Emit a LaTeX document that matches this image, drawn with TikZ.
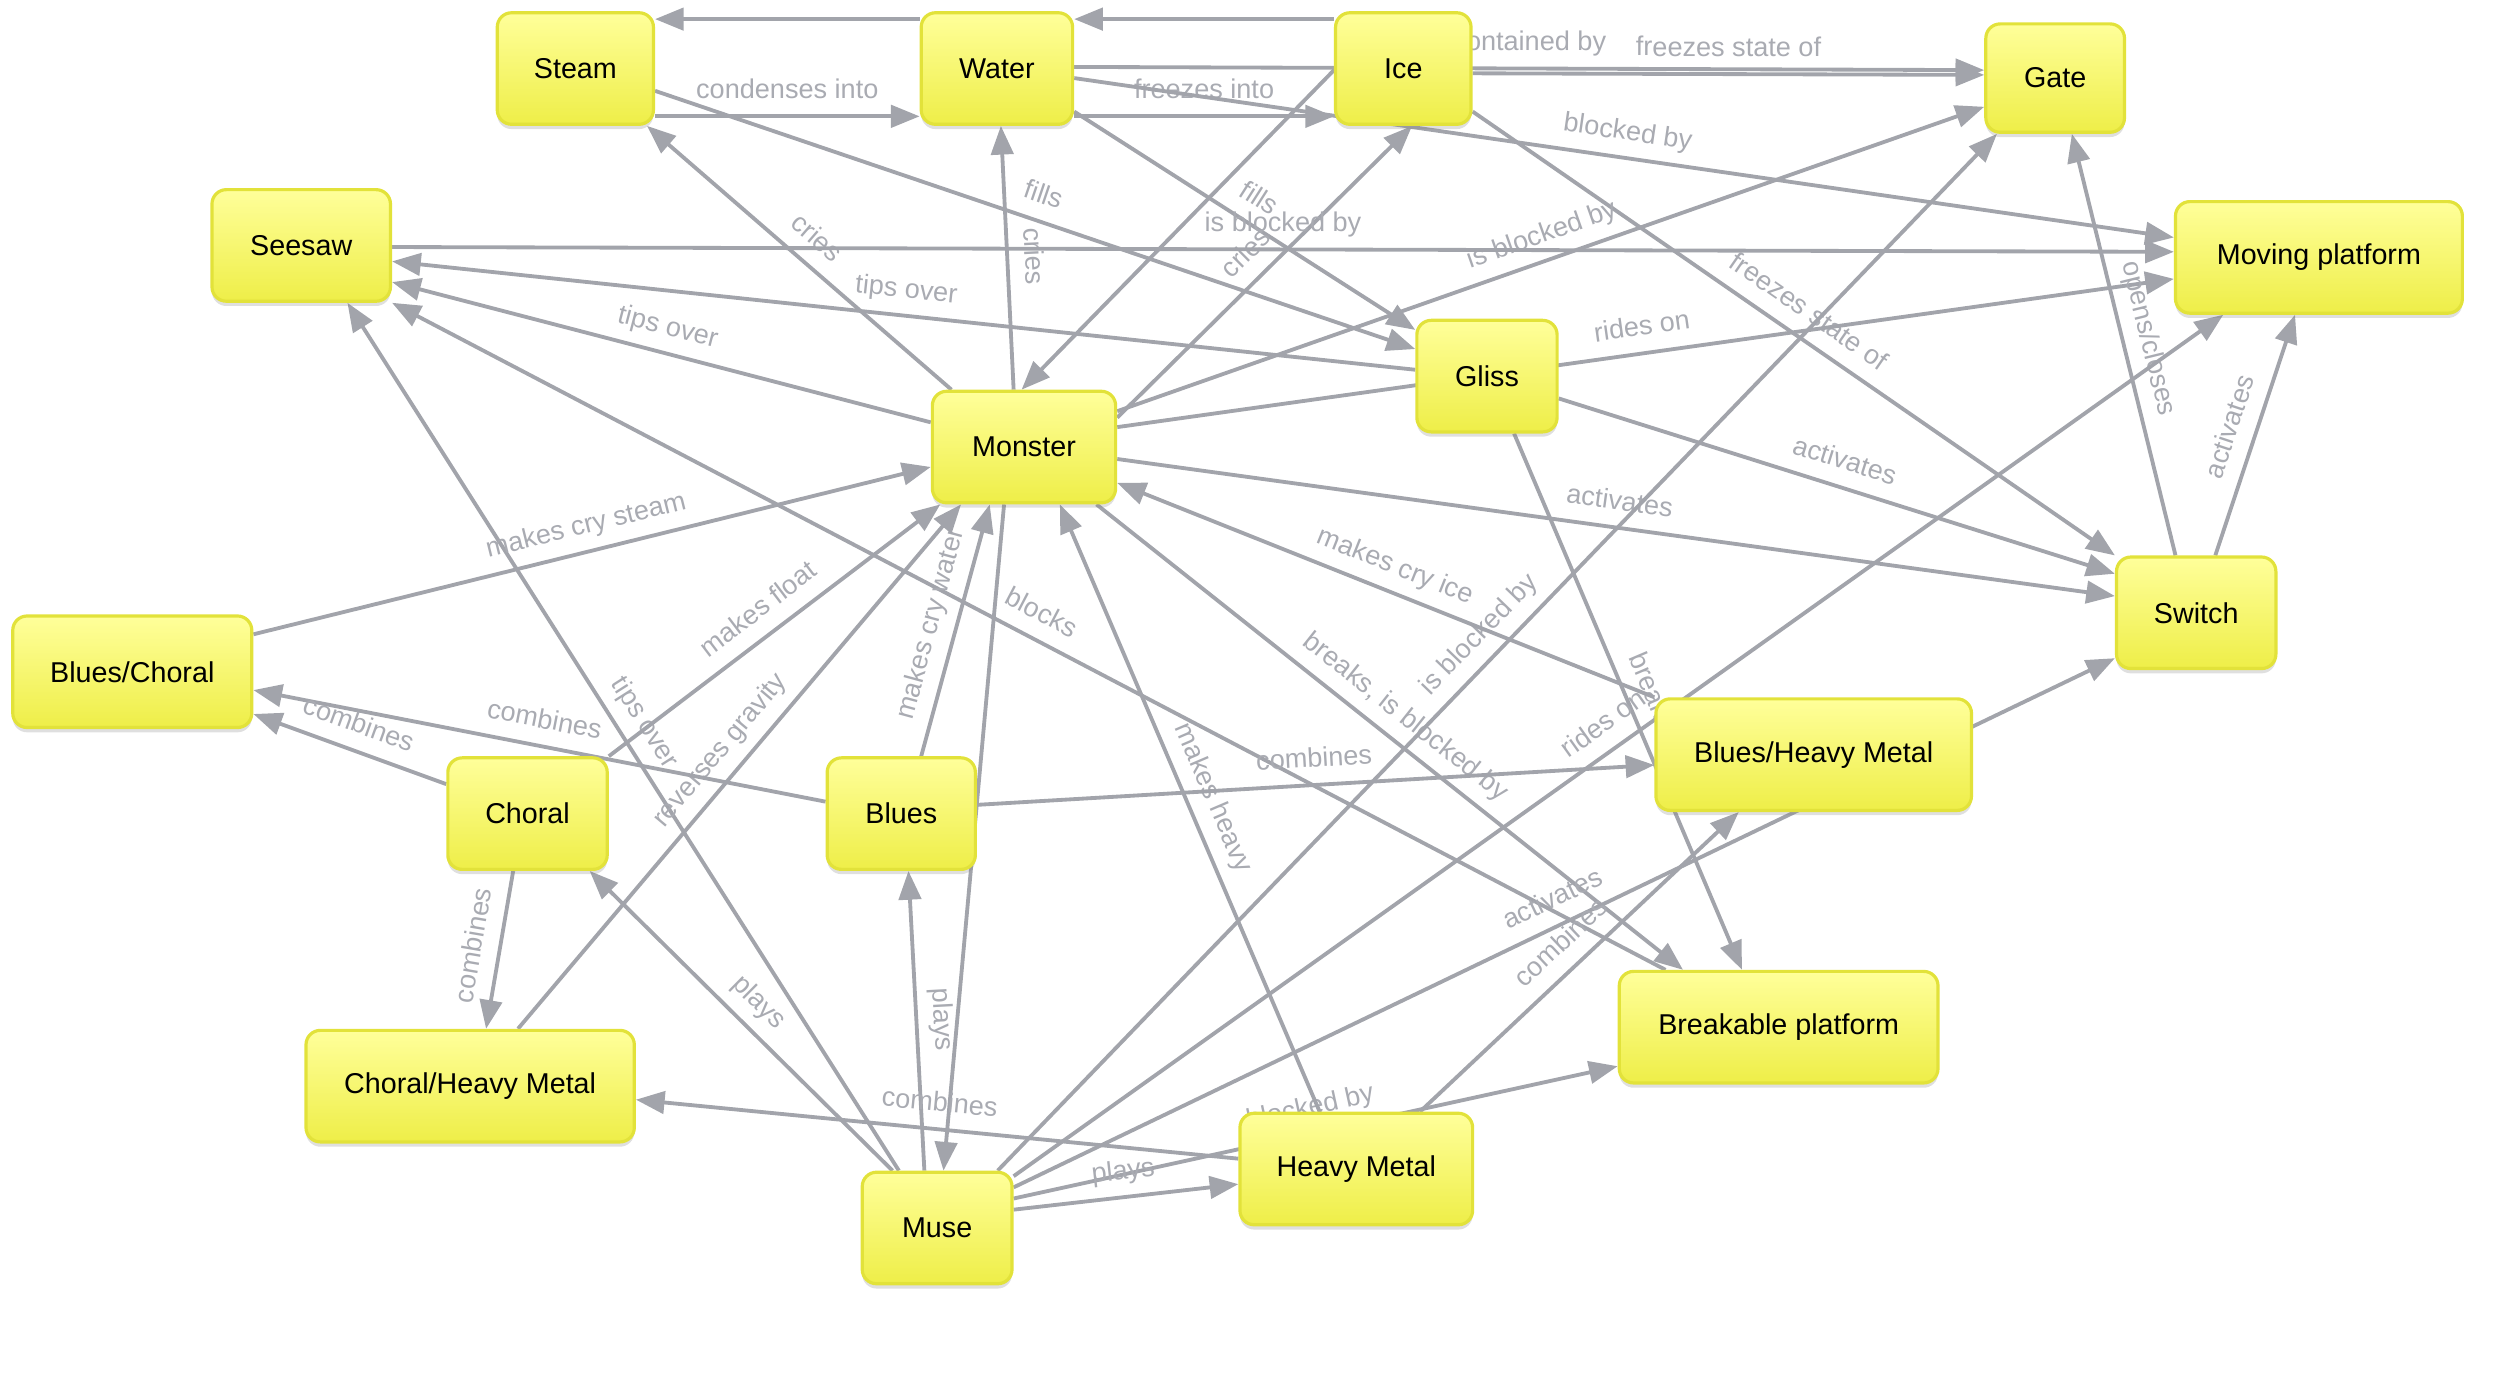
\documentclass[tikz,border=0pt]{standalone}
\usepackage{fontspec}
\setmainfont{Liberation Sans}
\usetikzlibrary{arrows.meta, backgrounds, shadows}

\definecolor{boxtop}{HTML}{FFFF9A}
\definecolor{boxbot}{HTML}{EEEE48}
\definecolor{boxline}{HTML}{E2E23A}
\definecolor{edgegray}{HTML}{A2A4AB}
\definecolor{lblgray}{HTML}{A9ABB2}

\begin{document}
\begin{tikzpicture}[
    x=1pt, y=-1pt,
    >={Triangle[length=18pt, width=14pt]},
    blk/.style={rectangle, rounded corners=9pt, draw=boxline, line width=2pt,
        top color=boxtop, bottom color=boxbot, minimum height=70pt,
        font=\fontsize{18}{18}\selectfont, text=black,
        drop shadow={shadow xshift=0pt, shadow yshift=-3pt, opacity=.25}},
    edge/.style={->, draw=edgegray, line width=2.4pt},
    lbl/.style={sloped, above=5pt, inner sep=1pt, text=lblgray,
        font=\fontsize{17}{17}\selectfont, text height=12pt, text depth=4pt}
]
\useasboundingbox (0,0) rectangle (1568,861);

\node[blk, minimum width=98pt]  (steam)     at (361,43)    {Steam};
\node[blk, minimum width=95pt]  (water)     at (625.5,43)  {Water};
\node[blk, minimum width=85pt]  (ice)       at (880.5,43)  {Ice};
\node[blk, minimum width=87pt, minimum height=68pt] (gate) at (1289.5,49) {Gate};
\node[blk, minimum width=112pt] (seesaw)    at (189,154)   {Seesaw};
\node[blk, minimum width=180pt] (moving)    at (1455,161.5) {Moving platform};
\node[blk, minimum width=88pt]  (gliss)     at (933,236)   {Gliss};
\node[blk, minimum width=115pt] (monster)   at (642.5,280.5) {Monster};
\node[blk, minimum width=100pt] (switch)    at (1378,384.5) {Switch};
\node[blk, minimum width=150pt] (bluesch)   at (83,421.5)  {Blues/Choral};
\node[blk, minimum width=100pt] (choral)    at (331,510.5) {Choral};
\node[blk, minimum width=93pt]  (blues)     at (565.5,510.5) {Blues};
\node[blk, minimum width=198pt] (blueshm)   at (1138,473.5) {Blues/Heavy Metal};
\node[blk, minimum width=200pt] (breakable) at (1116,644.5) {Breakable platform};
\node[blk, minimum width=206pt] (choralhm)  at (295,681.5) {Choral/Heavy Metal};
\node[blk, minimum width=146pt] (heavy)     at (851,733.5) {Heavy Metal};
\node[blk, minimum width=94pt]  (muse)      at (588,770.5) {Muse};

\begin{scope}[on background layer]
% states of water
\draw[edge] (water.west |- 0,12) -- (steam.east |- 0,12);
\draw[edge] (ice.west |- 0,12) -- (water.east |- 0,12);
\draw[edge] (steam.east |- 0,73) -- node[midway, lbl] {condenses into} (water.west |- 0,73);
\draw[edge] (water.east |- 0,73) -- node[midway, lbl] {freezes into} (ice.west |- 0,73);
\draw[edge] (water.east |- 0,42) -- node[midway, lbl] {contained by} (gate.west |- 0,44);
\draw[edge] (ice.east |- 0,46) -- node[midway, lbl] {freezes state of} (gate.west |- 0,47);
\draw[edge] (water.east |- 0,49) -- node[midway, lbl] {blocked by} (moving.west |- 0,149);
\draw[edge] (ice.east |- 0,70) -- node[midway, lbl] {freezes state of} (switch.north west);
\draw[edge] (steam.east |- 0,57) -- node[midway, lbl] {fills} (gliss.west |- 0,219);
\draw[edge] (water.east |- 0,70) -- node[midway, lbl] {fills} (gliss.west |- 0,207);

% monster
\draw[edge] (monster.north -| 597,0) -- node[midway, lbl] {cries} (steam.south -| 406,0);
\draw[edge] (monster.north -| 636,0) -- node[midway, lbl] {cries} (water.south -| 628,0);
\draw[edge] (ice.west |- 0,44) -- (monster.north -| 641,0);
\draw[edge] (monster.east |- 0,262) -- node[midway, lbl] {cries} (ice.south -| 886,0);
\draw[edge] (monster.east |- 0,258) -- node[midway, lbl] {is blocked by} (gate.west |- 0,67);
\draw[edge] (monster.west |- 0,265) -- node[midway, lbl] {tips over} (seesaw.east |- 0,177);
\draw[edge] (monster.east |- 0,268) -- node[midway, lbl] {rides on} (moving.west |- 0,175);
\draw[edge] (monster.east |- 0,288) -- node[midway, lbl] {activates} (switch.west |- 0,374);
\draw[edge] (monster.south -| 688,0) -- node[midway, lbl] {breaks, is blocked by} (breakable.north -| 1056,0);
\draw[edge] (monster.south -| 630,0) -- (muse.north -| 592,0);

% seesaw, gliss, switch
\draw[edge] (seesaw.east |- 0,155) -- node[midway, lbl] {is blocked by} (moving.west |- 0,158);
\draw[edge] (gliss.west |- 0,232) -- node[midway, lbl] {tips over} (seesaw.east |- 0,164);
\draw[edge] (gliss.east |- 0,250) -- node[midway, lbl] {activates} (switch.west |- 0,360);
\draw[edge] (gliss.south -| 950,0) -- node[midway, lbl] {breaks} (breakable.north -| 1093,0);
\draw[edge] (breakable.north -| 1045,0) -- node[midway, lbl] {blocks} (seesaw.south east);
\draw[edge] (switch.north -| 1365,0) -- node[midway, lbl] {opens/closes} (gate.south -| 1300,0);
\draw[edge] (switch.north -| 1390,0) -- node[midway, lbl] {activates} (moving.south -| 1440,0);

% muse
\draw[edge] (muse.north -| 564,0) -- node[midway, lbl] {tips over} (seesaw.south -| 218,0);
\draw[edge] (muse.north -| 560,0) -- node[midway, lbl] {plays} (choral.south -| 370,0);
\draw[edge] (muse.north -| 580,0) -- node[midway, lbl] {plays} (blues.south -| 570,0);
\draw[edge] (muse.north -| 626,0) -- node[midway, lbl] {is blocked by} (gate.south -| 1253,0);
\draw[edge] (muse.east |- 0,738) -- node[midway, lbl] {rides on} (moving.south -| 1395,0);
\draw[edge] (muse.east |- 0,745) -- node[midway, lbl] {activates} (switch.west |- 0,413);
\draw[edge] (muse.east |- 0,752) -- node[midway, lbl] {blocked by} (breakable.west |- 0,669);
\draw[edge] (muse.east |- 0,759) -- node[midway, lbl] {plays} (heavy.west |- 0,743);

% music into monster
\draw[edge] (blues.north -| 578,0) -- node[midway, lbl] {makes cry water} (monster.south -| 621,0);
\draw[edge] (choral.north east) -- node[midway, lbl] {makes float} (monster.south -| 590,0);
\draw[edge] (choralhm.north -| 325,0) -- node[midway, lbl] {reverses gravity} (monster.south -| 603,0);
\draw[edge] (heavy.north -| 828,0) -- node[midway, lbl] {makes heavy} (monster.south -| 665,0);
\draw[edge] (blueshm.north west) -- node[midway, lbl] {makes cry ice} (monster.east |- 0,303);
\draw[edge] (bluesch.east |- 0,398) -- node[midway, lbl] {makes cry steam} (monster.west |- 0,293);

% combinations
\draw[edge] (blues.west |- 0,503) -- node[midway, lbl] {combines} (bluesch.east |- 0,433);
\draw[edge] (choral.west |- 0,492) -- node[midway, lbl] {combines} (bluesch.east |- 0,448);
\draw[edge] (choral.south -| 322,0) -- node[midway, lbl] {combines} (choralhm.north -| 305,0);
\draw[edge] (heavy.west |- 0,727) -- node[midway, lbl] {combines} (choralhm.east |- 0,690);
\draw[edge] (blues.east |- 0,505) -- node[midway, lbl] {combines} (blueshm.west |- 0,480);
\draw[edge] (heavy.north -| 891,0) -- node[midway, lbl] {combines} (blueshm.south -| 1091,0);
\end{scope}
\end{tikzpicture}
\end{document}
